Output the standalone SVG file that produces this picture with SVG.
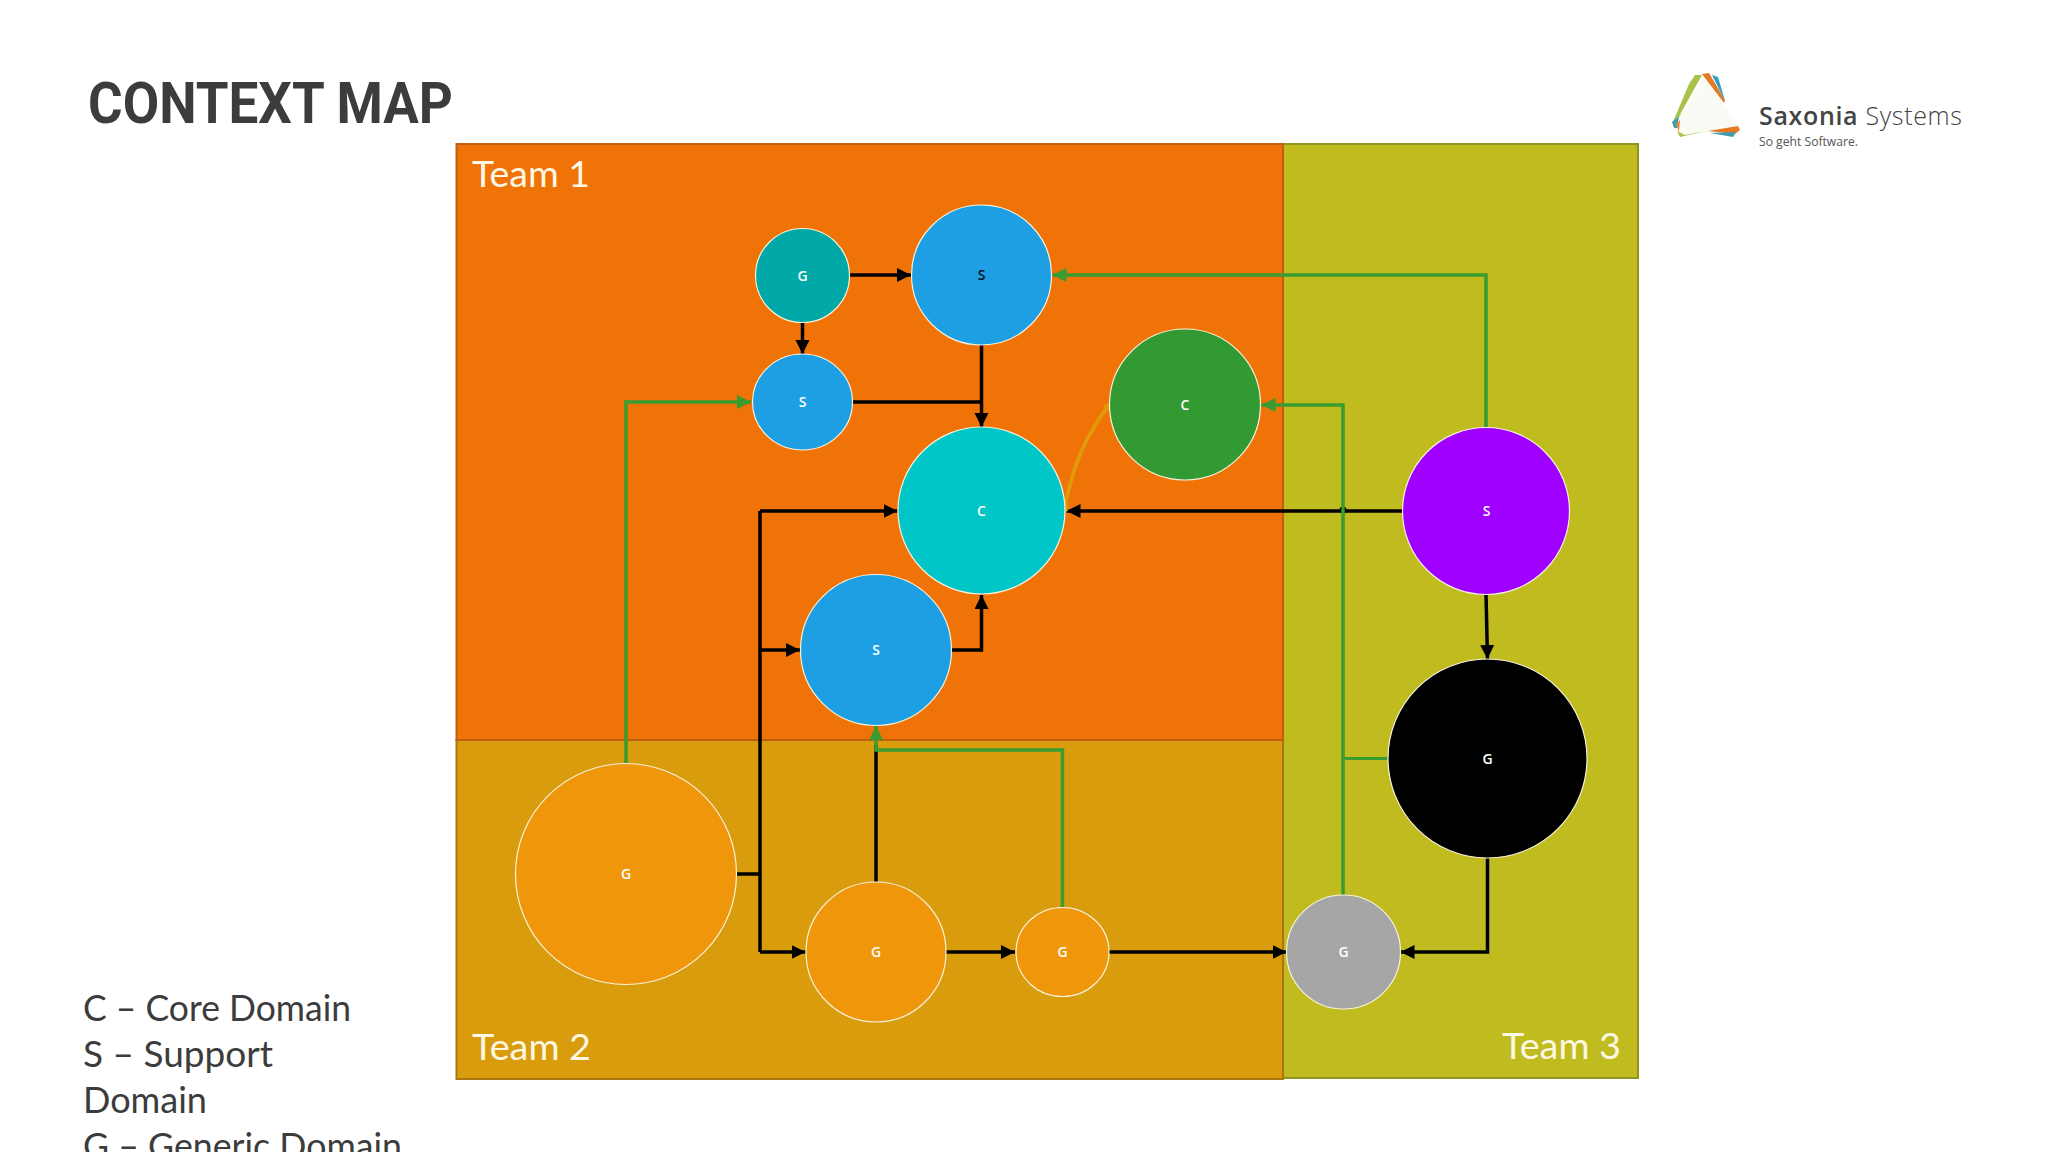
<svg xmlns="http://www.w3.org/2000/svg" width="2048" height="1152" viewBox="0 0 2048 1152">
<defs>
<style>
text{font-family:"Open Sans","Noto Sans","Liberation Sans",sans-serif}
.team{stroke-width:2}
.tl{font-family:Lato,"Open Sans",sans-serif;font-weight:400;font-size:37px;fill:#fdf8e4}
.leg{font-family:Lato,"Open Sans",sans-serif;font-weight:400;font-size:37px;fill:#3c3c3c}
.n{stroke:#f6f2dc;stroke-width:1.2}
.l{font-size:14px;font-weight:600;fill:#fff;text-anchor:middle}
.k{fill:none;stroke:#000;stroke-width:3.500}
.g{fill:none;stroke:#389c30;stroke-width:3.500}
.ka{marker-end:url(#ak)}
.ga{marker-end:url(#ag)}
</style>
<marker id="ak" markerUnits="userSpaceOnUse" markerWidth="15" markerHeight="15" refX="14" refY="7" orient="auto"><path d="M0 0L14 7L0 14Z" fill="#000"/></marker>
<marker id="ag" markerUnits="userSpaceOnUse" markerWidth="15" markerHeight="15" refX="14" refY="7" orient="auto"><path d="M0 0L14 7L0 14Z" fill="#389c30"/></marker>
</defs>
<rect width="2048" height="1152" fill="#fff"/>
<text x="88" y="123" font-size="57" font-weight="700" fill="#3c3c3c" style="font-family:Roboto,'Open Sans',sans-serif" textLength="365" lengthAdjust="spacingAndGlyphs">CONTEXT MAP</text>
<g id="logo">
<path d="M1705 76L1674 129L1681 137L1708 132L1738 136L1739 128Z" fill="#fbfbf6"/>
<path d="M1695 75L1702 75L1677 120L1683 112L1673 122L1689 84Z" fill="#a9c24a"/>
<path d="M1702 74L1709 73L1725 100L1724 103Z" fill="#e57a25"/>
<path d="M1712 75L1718 77L1725 101Z" fill="#2f9fc4"/>
<path d="M1672 122L1679 116L1677 128L1674 128Z" fill="#3f9db0"/>
<path d="M1676 124L1680 120L1679 132Z" fill="#e08a3a"/>
<path d="M1677 131L1685 135L1706 131L1680 137Z" fill="#a9c24a"/>
<path d="M1708 131L1738 126L1740 130L1735 134Z" fill="#e57a25"/>
<path d="M1710 133L1736 132L1733 137Z" fill="#3f9db0"/>
<text x="1759" y="125" font-size="25" fill="#444" textLength="203"><tspan font-weight="600">Saxonia</tspan> <tspan font-weight="300">Systems</tspan></text>
<text x="1759" y="146" font-size="12.5" fill="#555" textLength="99" lengthAdjust="spacingAndGlyphs">So geht Software.</text>
</g>
<g id="team3"><rect class="team" x="1283" y="144" width="355" height="934" fill="#c0bb1e" stroke="#8f9420"/><text class="tl" x="1502" y="1059" textLength="119" lengthAdjust="spacingAndGlyphs">Team 3</text></g>
<g id="team2"><rect class="team" x="456.500" y="740" width="826.500" height="339" fill="#d89c0d" stroke="#a9760f"/><text class="tl" x="472" y="1060" textLength="119" lengthAdjust="spacingAndGlyphs">Team 2</text></g>
<g id="team1"><rect class="team" x="456.500" y="144" width="826.500" height="596" fill="#ef7306" stroke="#bf5f10"/><text class="tl" x="472" y="187" textLength="118" lengthAdjust="spacingAndGlyphs">Team 1</text></g>
<g id="legend">
<text class="leg" x="83" y="1021" textLength="268" lengthAdjust="spacingAndGlyphs">C – Core Domain</text>
<text class="leg" x="83" y="1067" textLength="190" lengthAdjust="spacingAndGlyphs">S – Support</text>
<text class="leg" x="83" y="1113" textLength="124" lengthAdjust="spacingAndGlyphs">Domain</text>
<text class="leg" x="83" y="1159" textLength="319" lengthAdjust="spacingAndGlyphs">G – Generic Domain</text>
</g>
<g id="connectors">
<path class="k ka" d="M848 275H911"/>
<path class="k ka" d="M802.500 322V354"/>
<path class="k ka" d="M981.500 345V427"/>
<path class="k" d="M852 402H981.500"/>
<path class="k ka" d="M1403 511H1066.500"/>
<circle cx="1343" cy="510" r="3.500" fill="#000"/>
<path class="k" d="M736 874H760"/>
<path class="k" d="M760 511V952"/>
<path class="k ka" d="M760 511H897.500"/>
<path class="k ka" d="M760 650H800"/>
<path class="k ka" d="M760 952H805.500"/>
<path class="k ka" d="M951 650H981.500V595"/>
<path class="k" d="M876 882V745"/>
<path class="k ka" d="M1486 594L1487.500 659"/>
<path class="k ka" d="M1487.500 858V952H1400.500"/>
<path class="k ka" d="M945 952H1015"/>
<path class="k ka" d="M1109 952H1286.500"/>
<path class="g ga" d="M1486 428V275H1052.500"/>
<path class="g ga" d="M1343 896V405H1261.500"/>
<path class="g" d="M1388 758.500H1343" style="stroke-width:2.800"/>
<path class="g ga" d="M626 764V402H751"/>
<path class="g ga" d="M1062.500 907V750H876V726"/>
<path d="M1108 406C1094 425 1084 442 1076 465C1071 480 1067 495 1064.500 509" fill="none" stroke="#e39a0a" stroke-width="3.800" stroke-linecap="round"/>
<circle cx="1107.500" cy="407" r="3.500" fill="#e39a0a"/>
<circle cx="1064.500" cy="508" r="4" fill="#e39a0a"/>
</g>
<g id="node-g1"><circle class="n" cx="802.500" cy="275.500" r="47" fill="#00a8a8"/><text class="l" x="802.500" y="280.500">G</text></g>
<g id="node-s1"><circle class="n" cx="981.500" cy="275" r="70" fill="#1e9fe3"/><text class="l" x="981.500" y="280" style="fill:#0a1020">S</text></g>
<g id="node-s2"><ellipse class="n" cx="802.500" cy="402" rx="50" ry="48" fill="#1e9fe3"/><text class="l" x="802.500" y="407">S</text></g>
<g id="node-c1"><circle class="n" cx="981.500" cy="510.500" r="83.500" fill="#00c6c8"/><text class="l" x="981.500" y="515.500">C</text></g>
<g id="node-c2"><circle class="n" cx="1185" cy="404.500" r="75.500" fill="#339933"/><text class="l" x="1185" y="409.500">C</text></g>
<g id="node-s3"><circle class="n" cx="876" cy="650" r="75.500" fill="#1e9fe3"/><text class="l" x="876" y="655">S</text></g>
<g id="node-s4"><circle class="n" cx="1486" cy="511" r="83.500" fill="#a000ff"/><text class="l" x="1486.500" y="516">S</text></g>
<g id="node-g2"><circle class="n" cx="626" cy="874" r="110.500" fill="#f0960a"/><text class="l" x="626" y="879">G</text></g>
<g id="node-g3"><circle class="n" cx="876" cy="952" r="70" fill="#f0960a"/><text class="l" x="876" y="957">G</text></g>
<g id="node-g4"><ellipse class="n" cx="1062.500" cy="952" rx="46.500" ry="44.500" fill="#f0960a"/><text class="l" x="1062.500" y="957">G</text></g>
<g id="node-g5"><circle class="n" cx="1487.500" cy="758.500" r="99.500" fill="#000"/><text class="l" x="1487.500" y="763.500">G</text></g>
<g id="node-g6"><circle class="n" cx="1343.500" cy="952" r="57" fill="#a6a6a6"/><text class="l" x="1343.500" y="957">G</text></g>
</svg>
